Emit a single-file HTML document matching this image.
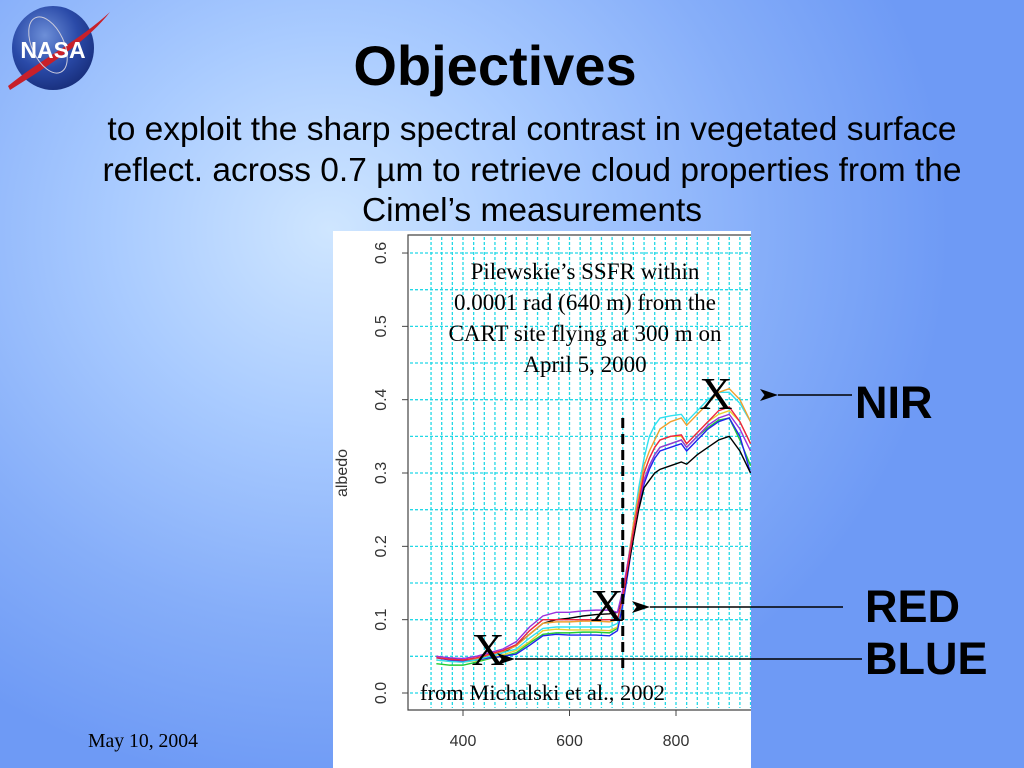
<!DOCTYPE html>
<html><head><meta charset="utf-8">
<style>
html,body{margin:0;padding:0;width:1024px;height:768px;overflow:hidden}
body{background:radial-gradient(ellipse 620px 560px at 330px 230px,#cfe6ff 0%,#a9cbff 35%,#86aef9 70%,#6e9af5 100%);font-family:"Liberation Sans",sans-serif;position:relative}
.t{position:absolute;white-space:nowrap}
</style></head><body>
<div class="t" style="left:12px;top:6px;width:82px;height:84px;border-radius:50%;background:radial-gradient(circle at 40% 35%,#6d8fd8 0%,#2a4aa8 45%,#0c1c5e 100%)"></div>
<svg class="t" style="left:0;top:0" width="130" height="100"><path d="M8,86 C40,60 80,40 110,12 C90,38 55,62 10,90Z" fill="#c8202a"/><ellipse cx="48" cy="45" rx="16" ry="30" fill="none" stroke="#ccd" stroke-width="1" transform="rotate(-25 48 45)"/><text x="53" y="58" text-anchor="middle" font-family="Liberation Sans" font-weight="bold" font-size="23" fill="#fff">NASA</text></svg>
<div class="t" style="left:0;width:990px;top:33px;text-align:center;font-weight:bold;font-size:56px;line-height:66px;color:#000">Objectives</div>
<div class="t" style="left:32px;width:1000px;top:110px;text-align:center;font-size:33.5px;line-height:40.5px;white-space:normal;color:#000">to exploit the sharp spectral contrast in vegetated surface<br>reflect. across 0.7 µm to retrieve cloud properties from the<br>Cimel’s measurements</div>
<svg class="t" style="left:0;top:0" width="1024" height="768" id="chart"></svg>
<div class="t" style="left:855px;top:377px;font-weight:bold;font-size:45px;line-height:52px">NIR</div>
<div class="t" style="left:865px;top:581px;font-weight:bold;font-size:45px;line-height:52px">RED</div>
<div class="t" style="left:865px;top:633px;font-weight:bold;font-size:45px;line-height:52px">BLUE</div>
<div class="t" style="left:88px;top:730px;font-family:'Liberation Serif',serif;font-size:19.7px">May 10, 2004</div>
<script>
const wl=[350,375,400,425,450,475,500,525,550,575,600,625,650,675,690,700,710,720,730,740,750,760,770,790,810,820,840,860,880,900,920,940];
const sBlack=[.05,.047,.045,.047,.05,.055,.065,.08,.095,.1,.102,.105,.107,.108,.11,.13,.17,.21,.25,.28,.29,.3,.305,.31,.315,.312,.325,.335,.345,.35,.33,.3];
const sPurple=[.05,.048,.047,.05,.055,.06,.07,.09,.105,.11,.11,.112,.113,.113,.11,.14,.18,.22,.26,.29,.31,.325,.335,.34,.345,.335,.35,.365,.375,.38,.36,.33];
const sRed=[.048,.046,.045,.048,.053,.058,.066,.085,.1,.1,.1,.1,.1,.1,.1,.13,.175,.22,.26,.3,.32,.335,.345,.35,.352,.34,.355,.37,.385,.39,.37,.34];
const sOrange=[.05,.046,.045,.047,.052,.057,.064,.08,.095,.097,.097,.098,.098,.097,.1,.13,.18,.23,.27,.31,.33,.345,.36,.37,.375,.365,.38,.395,.41,.415,.4,.37];
const sCyan=[.045,.043,.042,.045,.05,.055,.06,.075,.088,.09,.09,.09,.09,.09,.095,.13,.18,.23,.28,.32,.35,.365,.375,.378,.38,.37,.385,.4,.41,.41,.395,.37];
const sYellow=[.045,.043,.042,.044,.048,.052,.058,.07,.085,.087,.086,.086,.086,.085,.09,.125,.17,.22,.26,.3,.32,.335,.345,.35,.35,.34,.355,.37,.38,.385,.37,.34];
const sGreen=[.04,.038,.038,.042,.047,.05,.055,.068,.08,.082,.082,.083,.083,.082,.088,.12,.17,.22,.26,.29,.31,.325,.335,.34,.345,.335,.35,.362,.372,.375,.345,.31];
const sBlue=[.048,.045,.043,.045,.048,.05,.053,.065,.078,.08,.079,.079,.079,.078,.085,.12,.165,.215,.255,.285,.305,.32,.33,.335,.34,.33,.345,.36,.37,.375,.35,.3];
const xTicks=[400,600,800];
const yTicks=[0,0.1,0.2,0.3,0.4,0.5,0.6];
const NS="http://www.w3.org/2000/svg";
const svg=document.getElementById('chart');
const X=v=>463+(v-400)*0.5325;
const Y=v=>693-v*733.3;
function mk(t,a,p){const e=document.createElementNS(NS,t);for(const k in a)e.setAttribute(k,a[k]);(p||svg).appendChild(e);return e;}
const panel=mk('rect',{x:333,y:231,width:418,height:537,fill:'#fff'});


const cp=mk('clipPath',{id:'cp'});mk('rect',{x:333,y:231,width:418,height:537},cp);
const g=mk('g',{'clip-path':'url(#cp)'});
for(let w=340;w<=960;w+=20){const l=mk('line',{x1:X(w),x2:X(w),y1:237,y2:708,stroke:'#22d8e6','stroke-width':1.3,'stroke-dasharray':'3,2'},g);

}
for(let v=0;v<=0.6001;v+=0.05){const l=mk('line',{x1:410,x2:760,y1:Y(v),y2:Y(v),stroke:'#22d8e6','stroke-width':1.3,'stroke-dasharray':'3,2'},g);

}
const series=[[sGreen,'#22cc33','series-green'],[sYellow,'#e8d030','series-yellow'],[sBlue,'#2222ee','series-blue'],[sBlack,'#000','series-black'],[sCyan,'#33e0f0','series-cyan'],[sOrange,'#f0a030','series-orange'],[sPurple,'#9933dd','series-purple'],[sRed,'#ee2244','series-red']];
series.forEach(([d,c,n])=>{const p=mk('polyline',{points:d.map((v,i)=>X(wl[i])+','+Y(v)).join(' '),fill:'none',stroke:c,'stroke-width':1.4},g);

});
const fr=mk('path',{d:'M751,235 H408 V710 H751',fill:'none',stroke:'#444','stroke-width':1.2});


xTicks.forEach(t=>{mk('line',{x1:X(t),x2:X(t),y1:710,y2:716,stroke:'#444'});
const tx=mk('text',{x:X(t),y:746,'text-anchor':'middle','font-size':16,'font-family':'Liberation Sans',fill:'#333'});tx.textContent=t;

});
yTicks.forEach(t=>{mk('line',{x1:402,x2:408,y1:Y(t),y2:Y(t),stroke:'#444'});
const tx=mk('text',{x:0,y:0,'text-anchor':'middle','font-size':16,'font-family':'Liberation Sans',fill:'#333',transform:`translate(386,${Y(t)}) rotate(-90)`});tx.textContent=t.toFixed(1);

});
const yl=mk('text',{'text-anchor':'middle','font-size':16,'font-family':'Liberation Sans',fill:'#333',transform:'translate(347,473) rotate(-90)'});yl.textContent='albedo';


const dl=mk('line',{x1:X(700),x2:X(700),y1:418,y2:672,stroke:'#000','stroke-width':3,'stroke-dasharray':'10,6'});


['Pilewskie’s SSFR within','0.0001 rad (640 m) from the','CART site flying at 300 m on','April 5, 2000'].forEach((s,i)=>{const t=mk('text',{x:585,y:279+i*31,'text-anchor':'middle','font-size':23,'font-family':'Liberation Serif'});t.textContent=s;

});
const src=mk('text',{x:420,y:700,'font-size':22.5,'font-family':'Liberation Serif'});src.textContent='from Michalski et al., 2002';


[[488,665],[607,621],[716,409]].forEach(([x,y])=>{const t=mk('text',{x:x,y:y,'text-anchor':'middle','font-size':46,'font-family':'Liberation Serif'});t.textContent='X';

});
mk('defs',{}).innerHTML='<marker id="ah" markerWidth="12" markerHeight="8" refX="0" refY="4" orient="auto"><path d="M0,4 L12,0 L9,4 L12,8Z" fill="#000"/></marker>';
[[852,395,770,'nir-arrow'],[843,607,642,'red-arrow'],[862,659,507,'blue-arrow']].forEach(([x1,y,x2,n])=>{const l=mk('line',{x1:x1,x2:x2+8,y1:y,y2:y,stroke:'#000','stroke-width':1.5,'marker-end':'url(#ah)'});

});
</script>
</body></html>
